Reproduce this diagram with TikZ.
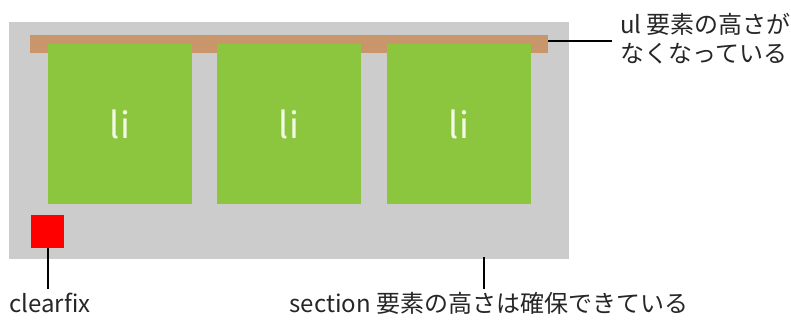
\documentclass[tikz,border=0pt]{standalone}
\usepackage{fontspec}
\setmainfont{Noto Sans CJK JP}
\definecolor{secgray}{HTML}{CCCCCC}
\definecolor{ulbrown}{HTML}{C8966A}
\definecolor{ligreen}{HTML}{8CC63F}
\definecolor{litext}{HTML}{F2F9E4}
\definecolor{cfred}{HTML}{FF0000}
\tikzset{
  box/.style={rectangle, inner sep=0pt, outer sep=0pt, anchor=north west},
  libox/.style={box, fill=ligreen, minimum width=144pt, minimum height=160pt,
    font=\fontsize{36}{38}\selectfont, text=litext},
  lbl/.style={inner sep=0pt, font=\fontsize{24}{29}\selectfont, text=black!85},
  conn/.style={draw=black, line width=2pt}
}
\begin{document}
\begin{tikzpicture}[x=1pt,y=-1pt]
\useasboundingbox (0,0) rectangle (791,320);
\node[box, fill=secgray, minimum width=560pt, minimum height=237pt] (sec) at (9,22) {};
\node[box, fill=ulbrown, minimum width=518pt, minimum height=18pt] (ul) at (30,35) {};
\node[libox] (li1) at (48,44) {li};
\node[libox] (li2) at (217,44) {li};
\node[libox] (li3) at (387,44) {li};
\node[box, fill=cfred, minimum width=33pt, minimum height=33pt] (cf) at (31,215) {};
% labels
\node[lbl, anchor=west, align=left] (ullbl) at (620,39) {ul 要素の高さが\\なくなっている};
\node[lbl] (cflbl) at (50,303) {clearfix};
\node[lbl] (seclbl) at (489,303) {section 要素の高さは確保できている};
\coordinate (ulend) at (612,41);
\coordinate (cfend) at (48,289);
\coordinate (secend) at (484,289);
\draw[conn] (ul.east |- ulend) -- (ulend);
\draw[conn] (cf.south -| cfend) -- (cfend);
\draw[conn] ([yshift=2pt]sec.south -| secend) -- (secend);
\end{tikzpicture}
\end{document}
